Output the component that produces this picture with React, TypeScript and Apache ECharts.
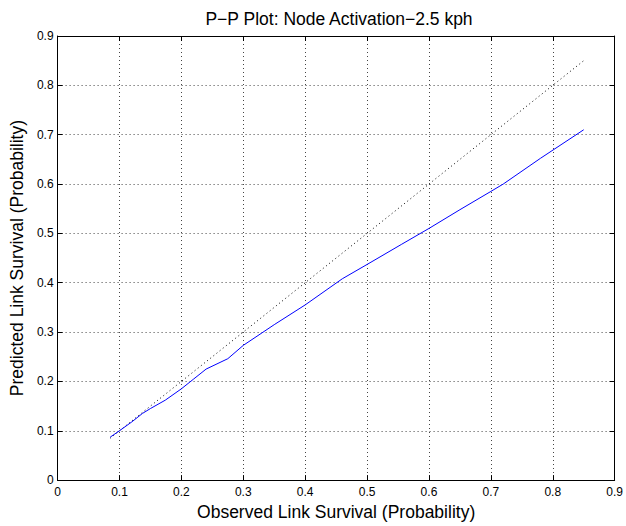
import React, { useEffect, useRef } from "react";
import * as echarts from "echarts";

const titleText = "P\u2212P Plot: Node Activation\u22122.5 kph";
const xName = "Observed Link Survival (Probability)";
const yName = "Predicted Link Survival (Probability)";

const observed = [0.085, 0.1, 0.12, 0.137, 0.15, 0.174, 0.2, 0.22, 0.24, 0.275, 0.3, 0.35, 0.4, 0.46, 0.5, 0.556, 0.6, 0.65, 0.7, 0.72, 0.78, 0.85];
const predicted = [0.087, 0.1, 0.118, 0.135, 0.145, 0.162, 0.185, 0.205, 0.225, 0.246, 0.273, 0.315, 0.355, 0.408, 0.437, 0.478, 0.51, 0.548, 0.585, 0.6, 0.652, 0.71];
const refLine = [0.085, 0.85];

const FONT = "'Liberation Sans', Arial, Helvetica, sans-serif";

export default function App() {
  const ref = useRef<HTMLDivElement>(null);
  useEffect(() => {
    if (!ref.current) return;
    const chart = echarts.init(ref.current, null, { renderer: "svg" });
    const tickStyle = { show: true, inside: true, length: 5, lineStyle: { color: "#000", width: 1 } };
    const axisBase = {
      type: "value" as const,
      min: 0,
      max: 0.9,
      interval: 0.1,
      axisLine: { show: true, onZero: false, lineStyle: { color: "#000", width: 1 } },
      axisTick: tickStyle,
    };
    const gridLine = { show: true, lineStyle: { color: "#444", width: 1, type: [1, 3] } };
    chart.setOption({
      animation: false,
      backgroundColor: "#fff",
      textStyle: { fontFamily: FONT },
      title: {
        text: titleText,
        left: 334,
        textAlign: "center",
        top: 5,
        textStyle: { fontFamily: FONT, fontSize: 17.5, fontWeight: "normal", color: "#000" },
      },
      grid: { left: 51, right: 10, top: 36, bottom: 44, containLabel: false },
      xAxis: [
        {
          ...axisBase,
          position: "bottom",
          name: xName,
          nameLocation: "middle",
          nameGap: 21,
          nameTextStyle: { fontFamily: FONT, fontSize: 17.5, color: "#000" },
          axisLabel: { fontFamily: FONT, fontSize: 12, color: "#000", margin: 6 },
          splitLine: gridLine,
        },
        {
          ...axisBase,
          position: "top",
          axisLabel: { show: false },
          splitLine: { show: false },
        },
      ],
      yAxis: [
        {
          ...axisBase,
          position: "left",
          name: yName,
          nameLocation: "middle",
          nameGap: 25,
          nameTextStyle: { fontFamily: FONT, fontSize: 17.5, color: "#000" },
          axisLabel: { fontFamily: FONT, fontSize: 12, color: "#000", margin: 4 },
          splitLine: gridLine,
        },
        {
          ...axisBase,
          position: "right",
          axisLabel: { show: false },
          splitLine: { show: false },
        },
      ],
      series: [
        {
          type: "line",
          data: refLine.map((v) => [v, v]),
          showSymbol: false,
          lineStyle: { color: "#000", width: 1, type: [1, 3] },
          silent: true,
        },
        {
          type: "line",
          data: observed.map((x, i) => [x, predicted[i]]),
          showSymbol: false,
          lineStyle: { color: "#0000ff", width: 1 },
          silent: true,
        },
      ],
    });
    return () => chart.dispose();
  }, []);
  return (
    <div
      ref={ref}
      style={{ position: "fixed", left: 0, top: 0, width: 626, height: 526 }}
    />
  );
}
